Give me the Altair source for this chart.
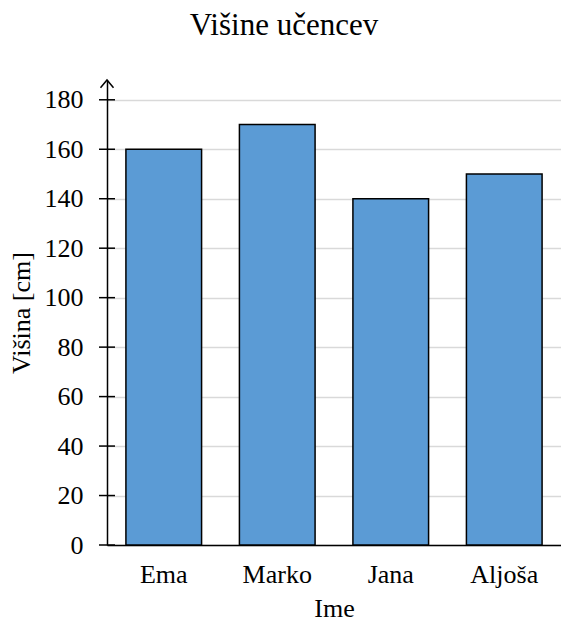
import altair as alt
import pandas as pd

names = ["Ema", "Marko", "Jana", "Aljoša"]
heights = [160, 170, 140, 150]
y_ticks = [0, 20, 40, 60, 80, 100, 120, 140, 160, 180]
y_top = 188

FONT = "Liberation Serif"

df = pd.DataFrame({"Ime": names, "Visina": heights})
tick_df = pd.DataFrame({"Visina": y_ticks})
arrow_df = pd.DataFrame({"Visina": [y_top]})

y_scale = alt.Scale(domain=[0, y_top], nice=False, zero=True)

x_enc = alt.X(
    "Ime:N",
    sort=names,
    scale=alt.Scale(paddingInner=1 / 3, paddingOuter=1 / 6),
    axis=alt.Axis(
        title="Ime", labelAngle=0, ticks=False, tickSize=0, grid=False,
        domainColor="black", domainWidth=1.5,
        labelFont=FONT, labelFontSize=26, labelColor="black", labelPadding=16,
        titleFont=FONT, titleFontSize=26, titleColor="black", titleFontWeight="normal",
        titlePadding=8,
    ),
)

y_enc = alt.Y(
    "Visina:Q",
    scale=y_scale,
    axis=alt.Axis(
        title="Višina [cm]", values=y_ticks, ticks=False, tickSize=0,
        grid=True, gridColor="#d9d9d9", gridWidth=1.5,
        domainColor="black", domainWidth=1.5,
        labelFont=FONT, labelFontSize=26, labelColor="black", labelPadding=24,
        titleFont=FONT, titleFontSize=26, titleColor="black", titleFontWeight="normal",
        titlePadding=10,
    ),
)

bars = alt.Chart(df).mark_bar(
    color="#5b9bd5", stroke="black", strokeWidth=1.5
).encode(x=x_enc, y=y_enc)

ticks = alt.Chart(tick_df).mark_tick(
    orient="horizontal", size=16, thickness=1.5, color="black", opacity=1
).encode(x=alt.value(0), y=alt.Y("Visina:Q", scale=y_scale))

arrow = alt.Chart(arrow_df).mark_point(
    shape="M-1,1.2L0,0L1,1.2", filled=False, size=169, stroke="black",
    strokeWidth=1.5, opacity=1
).encode(x=alt.value(0), y=alt.Y("Visina:Q", scale=y_scale))

chart = alt.layer(bars, ticks, arrow).properties(
    width=454,
    height=465,
    title=alt.TitleParams(
        "Višine učencev", font=FONT, fontSize=31, fontWeight="normal",
        color="black", anchor="middle", offset=35, dx=-50,
    ),
    autosize=alt.AutoSizeParams(type="none"),
    padding={"left": 99, "top": 72, "right": 0, "bottom": 82},
    background="white",
).configure_view(stroke=None)

chart.save("out.html", embed_options={"renderer": "svg", "actions": False})
